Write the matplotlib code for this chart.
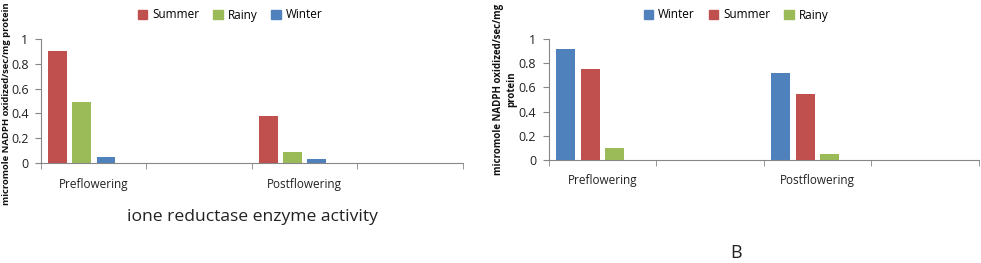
import matplotlib.pyplot as plt
import numpy as np

plt.rcParams['font.family'] = ['Open Sans', 'DejaVu Sans']

# stages on the x axis (every other slot is empty in the original chart)
stages = ["Preflowering", "Postflowering"]

# panel A
a_series = ["Summer", "Rainy", "Winter"]
a_summer = [0.90, 0.38]
a_rainy = [0.49, 0.09]
a_winter = [0.05, 0.03]

# panel B
b_series = ["Winter", "Summer", "Rainy"]
b_winter = [0.92, 0.72]
b_summer = [0.75, 0.55]
b_rainy = [0.10, 0.05]

BLUE = "#4F81BD"
RED = "#C0504D"
GREEN = "#9BBB59"
GREY = "#868686"
YTICKS = [0, 0.2, 0.4, 0.6, 0.8, 1]
YTICKLABELS = ["0", "0.2", "0.4", "0.6", "0.8", "1"]


def draw_panel(ax, values, colors, pad):
    pos = np.arange(len(stages)) * 2
    width = 0.175
    step = 0.228
    for k, (vals, col) in enumerate(zip(values, colors)):
        ax.bar(pos + (k - 1.5) * step, vals, width, color=col)
    ax.set_xlim(-0.5, 3.5)
    ax.set_ylim(0, 1)
    ax.set_yticks(YTICKS)
    ax.set_yticklabels(YTICKLABELS)
    ax.set_xticks(pos)
    ax.set_xticklabels(stages)
    ax.set_xticks(np.arange(-0.5, 3.6, 1), minor=True)
    ax.tick_params(axis="x", which="major", length=0, pad=pad, labelsize=8.5,
                   colors="#222222")
    ax.tick_params(axis="x", which="minor", length=4, color=GREY,
                   direction="out")
    ax.tick_params(axis="y", length=4, color=GREY, labelsize=9,
                   colors="#222222", pad=5)
    for s in ["top", "right"]:
        ax.spines[s].set_visible(False)
    for s in ["left", "bottom"]:
        ax.spines[s].set_color(GREY)
        ax.spines[s].set_linewidth(0.8)


fig = plt.figure(figsize=(9.81, 2.63), dpi=100)

ax1 = fig.add_axes([0.0418, 0.380, 0.430, 0.472])
draw_panel(ax1, [a_summer, a_rainy, a_winter], [RED, GREEN, BLUE], 11)

ax2 = fig.add_axes([0.5593, 0.3905, 0.4384, 0.4615])
draw_panel(ax2, [b_winter, b_summer, b_rainy], [BLUE, RED, GREEN], 10)

fig.text(7 / 981, 1 - 104 / 263, "micromole NADPH oxidized/sec/mg protein",
         fontsize=6.8, fontweight="bold", rotation=90, ha="center",
         va="center", color="#111111")
fig.text(505 / 981, 1 - 89 / 263, "micromole NADPH oxidized/sec/mg\nprotein",
         fontsize=7, fontweight="bold", rotation=90, ha="center",
         va="center", color="#111111", multialignment="center",
         linespacing=1.3)

h1 = [plt.Rectangle((0, 0), 1, 1, color=c) for c in [RED, GREEN, BLUE]]
fig.legend(h1, a_series, loc="center", bbox_to_anchor=(230 / 981, 1 - 15 / 263),
           ncol=3, frameon=False, fontsize=8.5, handlelength=0.8,
           handleheight=0.8, columnspacing=1.2, handletextpad=0.4)
h2 = [plt.Rectangle((0, 0), 1, 1, color=c) for c in [BLUE, RED, GREEN]]
fig.legend(h2, b_series, loc="center", bbox_to_anchor=(736 / 981, 1 - 15 / 263),
           ncol=3, frameon=False, fontsize=8.5, handlelength=0.8,
           handleheight=0.8, columnspacing=1.2, handletextpad=0.4)

fig.text(127 / 981, 1 - 217 / 263, "ione reductase enzyme activity",
         fontsize=12.6, va="center", ha="left", color="#222222")
fig.text(736 / 981, 1 - 253 / 263, "B", fontsize=13, va="center",
         ha="center", color="#222222")

fig.savefig("out.png", dpi=100)
